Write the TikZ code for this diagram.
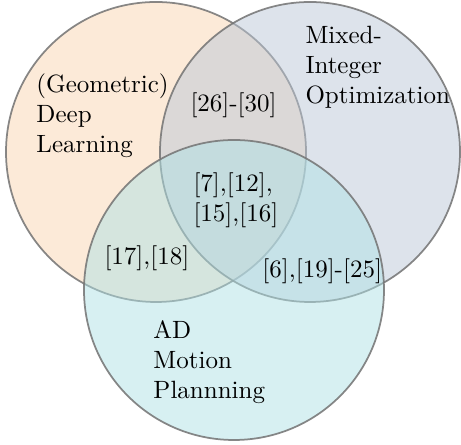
\documentclass[tikz,border=0pt]{standalone}
\begin{document}
\begin{tikzpicture}[x=0.4pt,y=0.4pt,
  venn/.style={circle, minimum size=120pt, inner sep=0pt, draw=black!55, line width=0.7pt, draw opacity=0.85, fill opacity=0.5},
  lbl/.style={inner sep=0pt, align=left, font=\fontsize{10}{12}\selectfont}]
\definecolor{cOrange}{RGB}{249,213,177}
\definecolor{cBlue}{RGB}{187,199,215}
\definecolor{cCyan}{RGB}{175,225,229}
\useasboundingbox (0,0) rectangle (461,445);
\node[venn, fill=cOrange] (dl) at (156,293) {};
\node[venn, fill=cBlue] (mio) at (310,293) {};
\node[venn, fill=cCyan] (ad) at (234,155) {};
\node[lbl, anchor=north west] (tdl) at (36,372) {(Geometric)\\Deep\\Learning};
\node[lbl, anchor=north west] (tmio) at (305,419.4) {Mixed-\\Integer\\Optimization};
\node[lbl, anchor=north west] (tad) at (153,125) {AD\\Motion\\Plannning};
\node[lbl, anchor=base west] (a) at (190,333) {[26]-[30]};
\node[lbl, anchor=north west] (b) at (193,273) {[7],[12],\\{}[15],[16]};
\node[lbl, anchor=base west] (c) at (104,180) {[17],[18]};
\node[lbl, anchor=base west] (d) at (262,167) {[6],[19]-[25]};
\end{tikzpicture}
\end{document}
